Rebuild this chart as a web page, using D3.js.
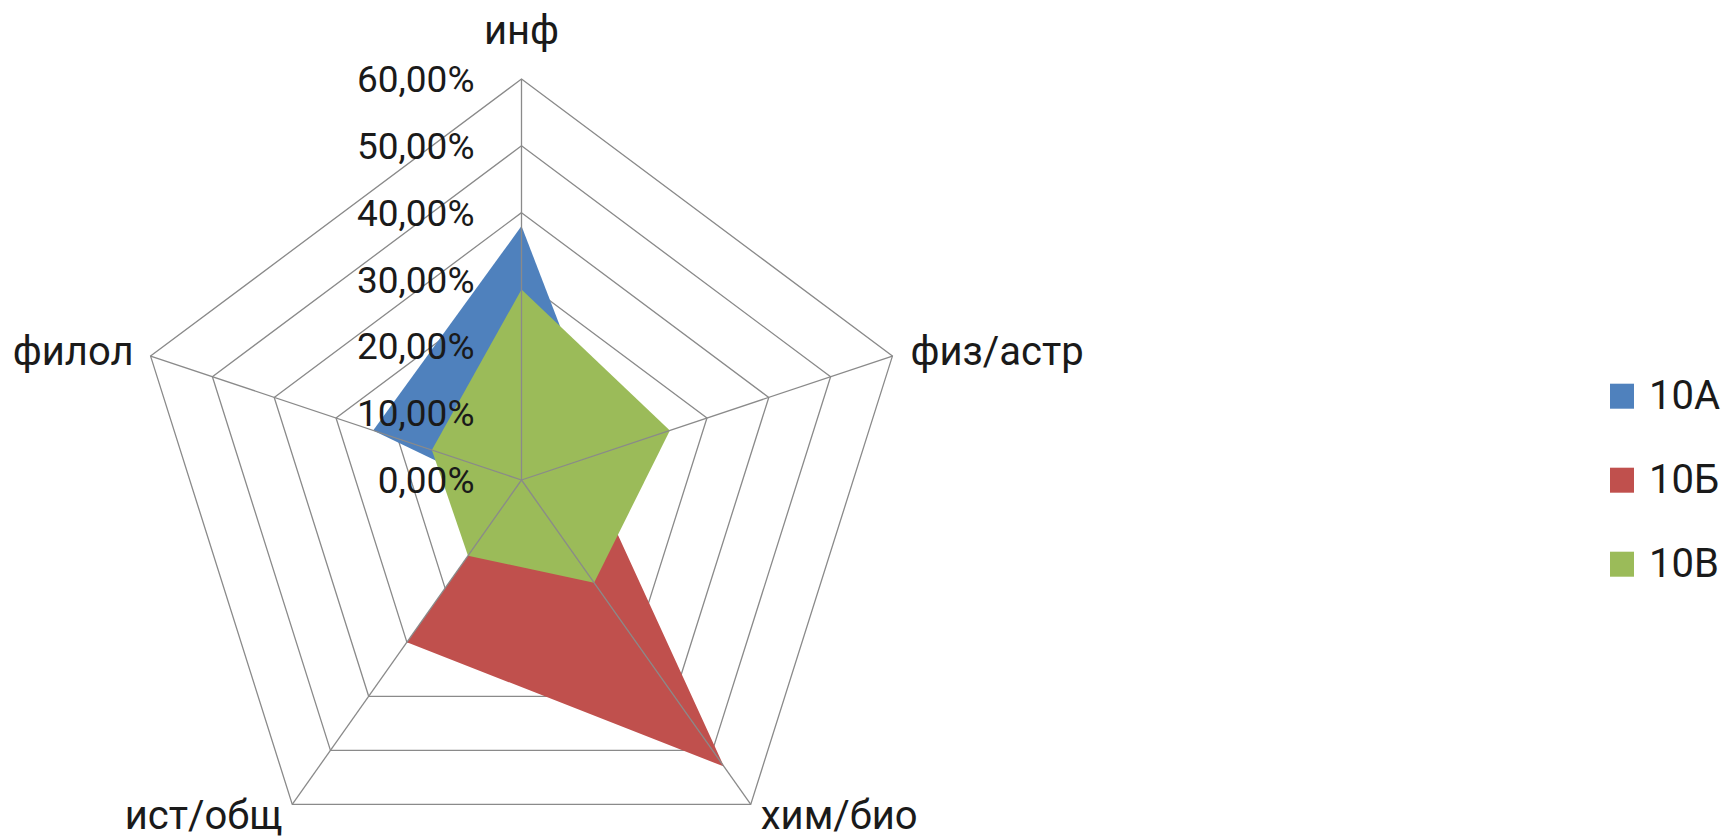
<!DOCTYPE html>
<html>
<head>
<meta charset="utf-8">
<script src="https://cdn.jsdelivr.net/npm/d3@7/dist/d3.min.js"></script>
<style>
  html, body { margin: 0; padding: 0; background: #fff; }
  svg { display: block; }
  text { font-family: Roboto, "Open Sans", sans-serif; fill: #1a1a1a; }
</style>
</head>
<body>
<svg id="chart" width="1723" height="839"></svg>
<script>
// ---- data ----
const categories = ["инф", "физ/астр", "хим/био", "ист/общ", "филол"];
const seriesNames = ["10А", "10Б", "10В"];
const values10A = [0.38, 0.14, 0.05, 0.03, 0.24];
const values10B = [0.10, 0.10, 0.53, 0.30, 0.00];
const values10V = [0.285, 0.24, 0.19, 0.14, 0.145];
const tickValues = [0, 0.1, 0.2, 0.3, 0.4, 0.5, 0.6];
const seriesColors = ["#4F81BD", "#C0504D", "#9BBB59"];

// ---- layout ----
const svg = d3.select("#chart");
const cx = 521.5, cy = 480;
const radius = 401;
const aspect = 0.9726; // horizontal compression seen in the reference
const r = d3.scaleLinear().domain([0, 0.6]).range([0, radius]);
const angle = d3.scaleLinear().domain([0, categories.length]).range([0, 2 * Math.PI]);

function pt(i, v) {
  const a = angle(i);
  return [cx + r(v) * Math.sin(a) * aspect, cy - r(v) * Math.cos(a)];
}

const gridColor = "#8a8a8a";

// rings (below fills)
const ringG = svg.append("g");
tickValues.filter(t => t > 0).forEach(t => {
  ringG.append("path")
    .attr("d", d3.line()(categories.map((c, i) => pt(i, t))) + "Z")
    .attr("fill", "none")
    .attr("stroke", gridColor)
    .attr("stroke-width", 1.3);
});

// series polygons
const allSeries = [values10A, values10B, values10V];
const polyG = svg.append("g");
allSeries.forEach((vals, s) => {
  polyG.append("path")
    .attr("d", d3.line()(vals.map((v, i) => pt(i, v))) + "Z")
    .attr("fill", seriesColors[s])
    .attr("stroke", "none");
});

// spokes (on top of fills)
const spokeG = svg.append("g");
categories.forEach((c, i) => {
  const [x, y] = pt(i, 0.6);
  spokeG.append("line")
    .attr("x1", cx).attr("y1", cy).attr("x2", x).attr("y2", y)
    .attr("stroke", gridColor)
    .attr("stroke-width", 1.3);
});

// tick labels
const fmt = v => (v * 100).toFixed(2).replace(".", ",") + "%";
const tickG = svg.append("g");
tickValues.forEach(t => {
  tickG.append("text")
    .attr("x", cx - 47)
    .attr("y", cy - r(t) + 13)
    .attr("text-anchor", "end")
    .attr("font-size", 37)
    .text(fmt(t));
});

// category labels
const catG = svg.append("g");
categories.forEach((c, i) => {
  const a = angle(i);
  const [x, y] = pt(i, 0.6);
  const s = Math.sin(a), co = Math.cos(a);
  let anchor = "middle", dx = 0, dy = 0;
  if (Math.abs(s) < 0.1) { anchor = "middle"; dy = -35; }
  else if (co > 0) { anchor = s > 0 ? "start" : "end"; dx = s > 0 ? 18 : -17; dy = 9; }
  else { anchor = s > 0 ? "start" : "end"; dx = s > 0 ? 10 : -10; dy = 24.5; }
  catG.append("text")
    .attr("x", x + dx)
    .attr("y", y + dy)
    .attr("text-anchor", anchor)
    .attr("font-size", 40)
    .text(c);
});

// legend
const legend = svg.append("g");
const legendY = d3.scalePoint().domain(seriesNames).range([408.7, 576.7]);
seriesNames.forEach((name, s) => {
  const by = legendY(name);
  legend.append("rect")
    .attr("x", 1610).attr("y", by - 25)
    .attr("width", 24).attr("height", 25)
    .attr("fill", seriesColors[s]);
  legend.append("text")
    .attr("x", 1649).attr("y", by)
    .attr("font-size", 40)
    .text(name);
});
</script>
</body>
</html>
